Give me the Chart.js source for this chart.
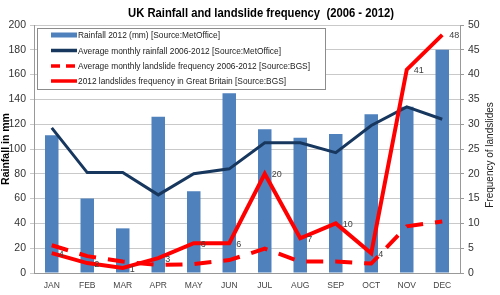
<!DOCTYPE html>
<html>
<head>
<meta charset="utf-8">
<script src="https://cdn.jsdelivr.net/npm/chart.js@4.4.0/dist/chart.umd.min.js"></script>
<style>
  html, body { margin: 0; padding: 0; background: #fff; }
  #wrap { width: 500px; height: 295px; }
</style>
</head>
<body>
<div id="wrap"><canvas id="mygraph" width="500" height="295"></canvas></div>
<script>
const months = ['JAN', 'FEB', 'MAR', 'APR', 'MAY', 'JUN', 'JUL', 'AUG', 'SEP', 'OCT', 'NOV', 'DEC']
const rainfall2012 = [111, 60, 36, 126, 66, 145, 116, 109, 112, 128, 134, 180]
const avgRainfall = [117, 81, 81, 63, 80, 84, 105, 105, 97, 119, 134, 124]
const avgLandslides = [5.6, 3.4, 2.3, 1.6, 1.8, 2.6, 4.9, 2.3, 2.3, 1.9, 9.4, 10.4]
const landslides2012 = [4, 2, 1, 3, 6, 6, 20, 7, 10, 4, 41, 48]

const legendItems = [
  { text: 'Rainfall 2012 (mm) [Source:MetOffice]', kind: 'bar', color: '#4F81BD', w: 142 },
  { text: 'Average monthly rainfall 2006-2012 [Source:MetOffice]', kind: 'line', color: '#17375E', w: 203 },
  { text: 'Average monthly landslide frequency 2006-2012 [Source:BGS]', kind: 'dash', color: '#FF0000', w: 232 },
  { text: '2012 landslides frequency in Great Britain [Source:BGS]', kind: 'line', color: '#FF0000', w: 208 }
]

// title, legend box, right axis title and point labels drawn on the canvas
const extras = {
  id: 'extras',
  afterDraw(chart) {
    const ctx = chart.ctx
    ctx.save()
    ctx.fillStyle = '#000'
    ctx.font = 'bold 12.5px "Liberation Sans", Arial, sans-serif'
    ctx.textAlign = 'center'
    ctx.textBaseline = 'middle'
    ctx.fillText('UK Rainfall and landslide frequency  (2006 - 2012)', 261, 14, 266)

    // right axis title, reading upwards
    ctx.save()
    ctx.translate(490, 155)
    ctx.rotate(-Math.PI / 2)
    ctx.fillStyle = '#222'
    ctx.font = '10px "Liberation Sans", Arial, sans-serif'
    ctx.fillText('Frequency of landslides', 0, 0)
    ctx.restore()

    // labels next to the 2012 landslide points
    const meta = chart.getDatasetMeta(0)
    ctx.font = '9px "Liberation Sans", Arial, sans-serif'
    ctx.fillStyle = '#404040'
    ctx.textAlign = 'left'
    meta.data.forEach((p, i) => {
      ctx.fillText(String(landslides2012[i]), p.x + 7, p.y + 1)
    })

    // legend
    ctx.fillStyle = '#fff'
    ctx.fillRect(37.5, 28.5, 288, 61)
    ctx.strokeStyle = '#8c8c8c'
    ctx.lineWidth = 1
    ctx.strokeRect(37.5, 28.5, 288, 61)
    const rows = [35, 50.5, 66, 81]
    legendItems.forEach((it, i) => {
      const y = rows[i]
      if (it.kind === 'bar') {
        ctx.fillStyle = it.color
        ctx.fillRect(51, y - 2.5, 26, 5)
      } else {
        ctx.strokeStyle = it.color
        ctx.lineWidth = 3.5
        ctx.setLineDash(it.kind === 'dash' ? [9, 6] : [])
        ctx.beginPath()
        ctx.moveTo(51, y)
        ctx.lineTo(77, y)
        ctx.stroke()
        ctx.setLineDash([])
      }
      ctx.fillStyle = '#222'
      ctx.font = '9.5px "Liberation Sans", Arial, sans-serif'
      ctx.textAlign = 'left'
      ctx.fillText(it.text, 78, y + 0.5, it.w)
    })
    ctx.restore()
  }
}

const ctx = document.getElementById('mygraph').getContext('2d')
new Chart(ctx, {
  type: 'bar',
  data: {
    labels: months,
    datasets: [
      {
        type: 'line',
        label: '2012 landslides frequency in Great Britain [Source:BGS]',
        data: landslides2012,
        yAxisID: 'y1',
        borderColor: '#FF0000',
        borderWidth: 4,
        pointRadius: 0,
        tension: 0,
        order: 1
      },
      {
        type: 'line',
        label: 'Average monthly landslide frequency 2006-2012 [Source:BGS]',
        data: avgLandslides,
        yAxisID: 'y1',
        borderColor: '#FF0000',
        borderWidth: 4,
        borderDash: [17, 12],
        pointRadius: 0,
        tension: 0,
        order: 2
      },
      {
        type: 'line',
        label: 'Average monthly rainfall 2006-2012 [Source:MetOffice]',
        data: avgRainfall,
        yAxisID: 'y',
        borderColor: '#17375E',
        borderWidth: 3,
        pointRadius: 0,
        tension: 0,
        order: 3
      },
      {
        type: 'bar',
        label: 'Rainfall 2012 (mm) [Source:MetOffice]',
        data: rainfall2012,
        yAxisID: 'y',
        backgroundColor: '#4F81BD',
        barPercentage: 0.38,
        categoryPercentage: 1,
        order: 4
      }
    ]
  },
  options: {
    responsive: false,
    animation: false,
    devicePixelRatio: 1,
    layout: { padding: { top: 25, right: 0, bottom: 0, left: 0 } },
    plugins: {
      legend: { display: false },
      title: { display: false },
      tooltip: { enabled: false }
    },
    scales: {
      x: {
        offset: true,
        grid: { display: false, drawTicks: false },
        border: { color: '#999' },
        ticks: { color: '#444', font: { size: 8.5, family: 'Liberation Sans' }, padding: 8, maxRotation: 0 },
        afterFit: s => { s.height = 22 }
      },
      y: {
        position: 'left',
        min: 0,
        max: 200,
        ticks: { stepSize: 20, color: '#333', font: { size: 10.5, family: 'Liberation Sans' }, padding: 4 },
        grid: { color: '#c9c9c9', tickLength: 4 },
        border: { color: '#999' },
        title: { display: true, text: 'Rainfall in mm', color: '#000', font: { size: 10.5, weight: 'bold', family: 'Liberation Sans' }, padding: 0 },
        afterFit: s => { s.width = 34 }
      },
      y1: {
        position: 'right',
        min: 0,
        max: 50,
        ticks: { stepSize: 5, color: '#333', font: { size: 10.5, family: 'Liberation Sans' }, padding: 4 },
        grid: { drawOnChartArea: false, color: '#999', tickLength: 4 },
        border: { color: '#999' },
        afterFit: s => { s.width = 40 }
      }
    }
  },
  plugins: [extras]
})
</script>
</body>
</html>
